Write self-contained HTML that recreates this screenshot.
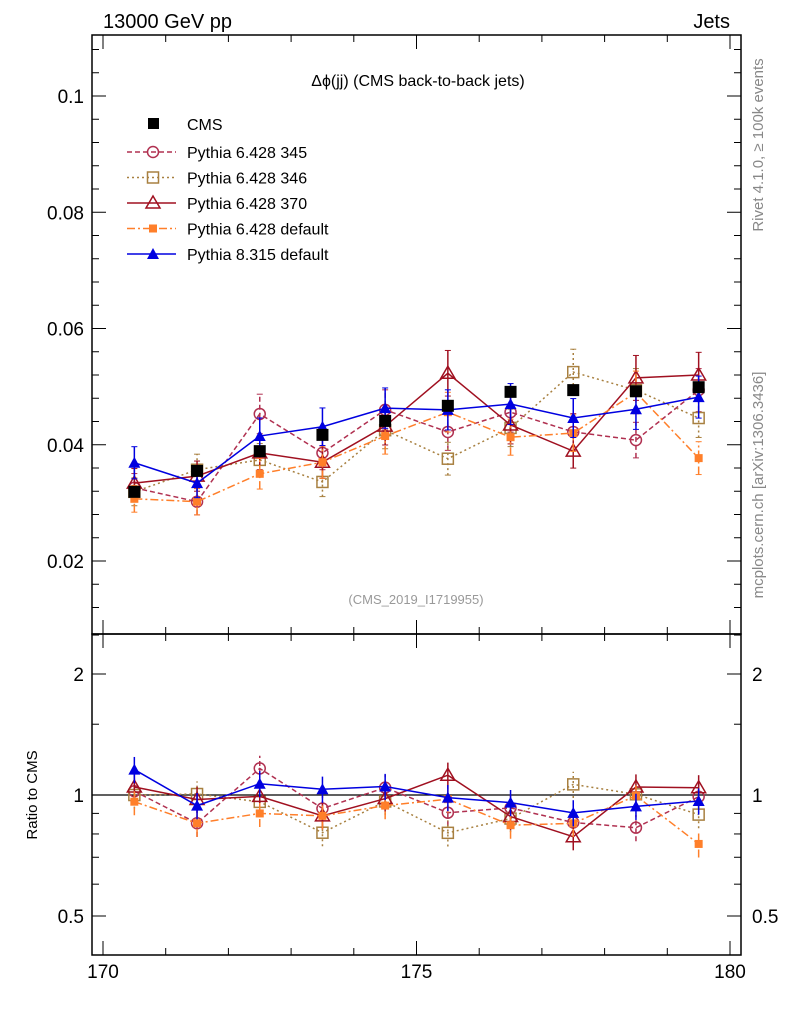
<!DOCTYPE html>
<html><head><meta charset="utf-8"><style>
body{margin:0;background:#fff}
svg text{font-family:"Liberation Sans",sans-serif}
</style></head><body>
<svg id="c" width="786" height="1024" xmlns="http://www.w3.org/2000/svg">
<text x="103" y="28" font-size="20">13000 GeV pp</text>
<text x="730" y="28" font-size="20" text-anchor="end">Jets</text>
<text x="418" y="86" font-size="16" text-anchor="middle">Δϕ(jj) (CMS back-to-back jets)</text>
<text x="416" y="604" font-size="13" fill="#999" text-anchor="middle">(CMS_2019_I1719955)</text>
<text transform="translate(763,145) rotate(-90)" font-size="15" fill="#888" text-anchor="middle">Rivet 4.1.0, ≥ 100k events</text>
<text transform="translate(763,485) rotate(-90)" font-size="15" fill="#888" text-anchor="middle">mcplots.cern.ch [arXiv:1306.3436]</text>
<text transform="translate(37,795) rotate(-90)" font-size="15" text-anchor="middle">Ratio to CMS</text>
<g id="main"></g><g id="ratio"></g><g id="legend"></g>
<rect x="92" y="35" width="649" height="599" fill="none" stroke="#000" stroke-width="1.5"/>
<rect x="92" y="634" width="649" height="321" fill="none" stroke="#000" stroke-width="1.5"/>
</svg>
<script>
const xs=[170.5,171.5,172.5,173.5,174.5,175.5,176.5,177.5,178.5,179.5];
const cms=[0.0319,0.0355,0.0389,0.0417,0.0441,0.0467,0.0491,0.0494,0.0492,0.0499];
const cmsErr=[0.0008,0.0008,0.0008,0.0008,0.0008,0.0008,0.0008,0.0008,0.0008,0.0008];
const p345=[0.0326,0.0302,0.0453,0.0386,0.046,0.0422,0.0456,0.0422,0.0408,0.0494];
const p346=[0.0319,0.0357,0.0374,0.0336,0.0425,0.0376,0.0429,0.0525,0.0494,0.0446];
const p370=[0.0334,0.0346,0.0386,0.037,0.0432,0.0523,0.0434,0.0389,0.0515,0.052];
const p6def=[0.0307,0.0302,0.035,0.037,0.0415,0.0456,0.0413,0.042,0.049,0.0377];
const p8def=[0.0369,0.0334,0.0415,0.0431,0.0463,0.046,0.047,0.0446,0.0461,0.0482];
const mcErrFrac=0.075;
const yTicks=[0.02,0.04,0.06,0.08,0.1];
const rTicks=[0.5,1,2];
const xTicks=[170,175,180];
const NS='http://www.w3.org/2000/svg';
const X=v=>103+(v-170)*62.7;
const Y=v=>96+(0.1-v)*5812.5;
const R=v=>795-121*Math.log2(v);
function mk(t,a,p){const e=document.createElementNS(NS,t);for(const k in a)e.setAttribute(k,a[k]);(p||document.getElementById('c')).appendChild(e);return e;}
const main=document.getElementById('main'),ratio=document.getElementById('ratio'),leg=document.getElementById('legend');
// ticks
yTicks.forEach(v=>{const t=mk('line',{x1:92,x2:106,y1:Y(v),y2:Y(v),stroke:'#000','stroke-width':1},main);

const t2=mk('line',{x1:727,x2:741,y1:Y(v),y2:Y(v),stroke:'#000'},main);

const l=mk('text',{x:84,y:Y(v)+7,'font-size':19,'text-anchor':'end'},main);l.textContent=String(v);
});
for(let v=0.012;v<0.11;v+=0.004){if(Math.abs((v*1000)%20)<0.5||Math.abs((v*1000)%20-20)<0.5)continue;
mk('line',{x1:92,x2:99,y1:Y(v),y2:Y(v),stroke:'#000'},main);mk('line',{x1:734,x2:741,y1:Y(v),y2:Y(v),stroke:'#000'},main);}
rTicks.forEach(v=>{mk('line',{x1:92,x2:106,y1:R(v),y2:R(v),stroke:'#000'},ratio);mk('line',{x1:727,x2:741,y1:R(v),y2:R(v),stroke:'#000'},ratio);
const l=mk('text',{x:84,y:R(v)+7,'font-size':19,'text-anchor':'end'},ratio);l.textContent=String(v);

const l2=mk('text',{x:752,y:R(v)+7,'font-size':19},ratio);l2.textContent=String(v);
});
[0.6,0.7,0.8,0.9,1.5,2.5].forEach(v=>{mk('line',{x1:92,x2:99,y1:R(v),y2:R(v),stroke:'#000'},ratio);mk('line',{x1:734,x2:741,y1:R(v),y2:R(v),stroke:'#000'},ratio);});
for(let v=170;v<=180;v++){const big=v%5===0;[634,955].forEach(b=>mk('line',{x1:X(v),x2:X(v),y1:b,y2:b-(big?14:7),stroke:'#000'}));
mk('line',{x1:X(v),x2:X(v),y1:35,y2:35+(big?14:7),stroke:'#000'});mk('line',{x1:X(v),x2:X(v),y1:634,y2:634+(big?14:7),stroke:'#000'});}
xTicks.forEach(v=>{const l=mk('text',{x:X(v),y:978,'font-size':19,'text-anchor':'middle'});l.textContent=String(v);
});
mk('line',{x1:92,x2:741,y1:R(1),y2:R(1),stroke:'#000','stroke-width':1.2},ratio);
function marker(g,type,col,x,y){
if(type==='sqf')return mk('rect',{x:x-5,y:y-5,width:10,height:10,fill:col},g);
if(type==='sqo')return mk('rect',{x:x-5.5,y:y-5.5,width:11,height:11,fill:'none',stroke:col,'stroke-width':1.5},g);
if(type==='circ')return mk('circle',{cx:x,cy:y,r:5.5,fill:'none',stroke:col,'stroke-width':1.5},g);
if(type==='trio')return mk('path',{d:`M${x},${y-7}L${x+7},${y+5}L${x-7},${y+5}Z`,fill:'none',stroke:col,'stroke-width':1.5},g);
if(type==='trif')return mk('path',{d:`M${x},${y-6}L${x+6},${y+5}L${x-6},${y+5}Z`,fill:col},g);
if(type==='sqs')return mk('rect',{x:x-4,y:y-4,width:8,height:8,fill:col},g);}
const series=[
{name:'Pythia 6.428 345',vals:p345,col:'#b03050',dash:'5,3',m:'circ'},
{name:'Pythia 6.428 346',vals:p346,col:'#a88040',dash:'2,3',m:'sqo'},
{name:'Pythia 6.428 370',vals:p370,col:'#a01020',dash:'',m:'trio'},
{name:'Pythia 6.428 default',vals:p6def,col:'#ff7f2a',dash:'8,3,2,3',m:'sqs'},
{name:'Pythia 8.315 default',vals:p8def,col:'#0000e0',dash:'',m:'trif'}];
series.forEach((s,si)=>{
const gm=mk('g',{},main);
const gr=mk('g',{},ratio);
const pm=s.vals.map((v,i)=>X(xs[i])+','+Y(v)).join(' ');
const pr=s.vals.map((v,i)=>X(xs[i])+','+R(v/cms[i])).join(' ');
const a={fill:'none',stroke:s.col,'stroke-width':1.5};if(s.dash)a['stroke-dasharray']=s.dash;
const l1=mk('polyline',Object.assign({points:pm},a),gm);
const l2=mk('polyline',Object.assign({points:pr},a),gr);
s.vals.forEach((v,i)=>{const x=X(xs[i]),e=v*mcErrFrac;
const ea={stroke:s.col,'stroke-width':1.5};if(s.dash)ea['stroke-dasharray']=s.dash;
mk('line',Object.assign({x1:x,x2:x,y1:Y(v-e),y2:Y(v+e)},ea),gm);
mk('line',{x1:x-3,x2:x+3,y1:Y(v+e),y2:Y(v+e),stroke:s.col},gm);mk('line',{x1:x-3,x2:x+3,y1:Y(v-e),y2:Y(v-e),stroke:s.col},gm);
const r=v/cms[i];
mk('line',Object.assign({x1:x,x2:x,y1:R(r*(1-mcErrFrac)),y2:R(r*(1+mcErrFrac))},ea),gr);
const p=marker(gm,s.m,s.col,x,Y(v));
const q=marker(gr,s.m,s.col,x,R(r));});
});
const gc=mk('g',{},main);
cms.forEach((v,i)=>{const x=X(xs[i]);mk('line',{x1:x,x2:x,y1:Y(v-cmsErr[i]),y2:Y(v+cmsErr[i]),stroke:'#000'},gc);
const p=mk('rect',{x:x-6,y:Y(v)-6,width:12,height:12,fill:'#000'},gc);});
// legend
const lm=mk('rect',{x:148,y:118,width:11,height:11,fill:'#000'},leg);
const lt=mk('text',{x:187,y:130,'font-size':16},leg);lt.textContent='CMS';
series.forEach((s,i)=>{const y=152+i*25.5;const a={stroke:s.col,'stroke-width':1.5};if(s.dash)a['stroke-dasharray']=s.dash;
mk('line',Object.assign({x1:127,x2:176,y1:y,y2:y},a),leg);
const m=marker(leg,s.m,s.col,153,y);
const t=mk('text',{x:187,y:y+6,'font-size':16},leg);t.textContent=s.name;});
</script>
</body></html>
